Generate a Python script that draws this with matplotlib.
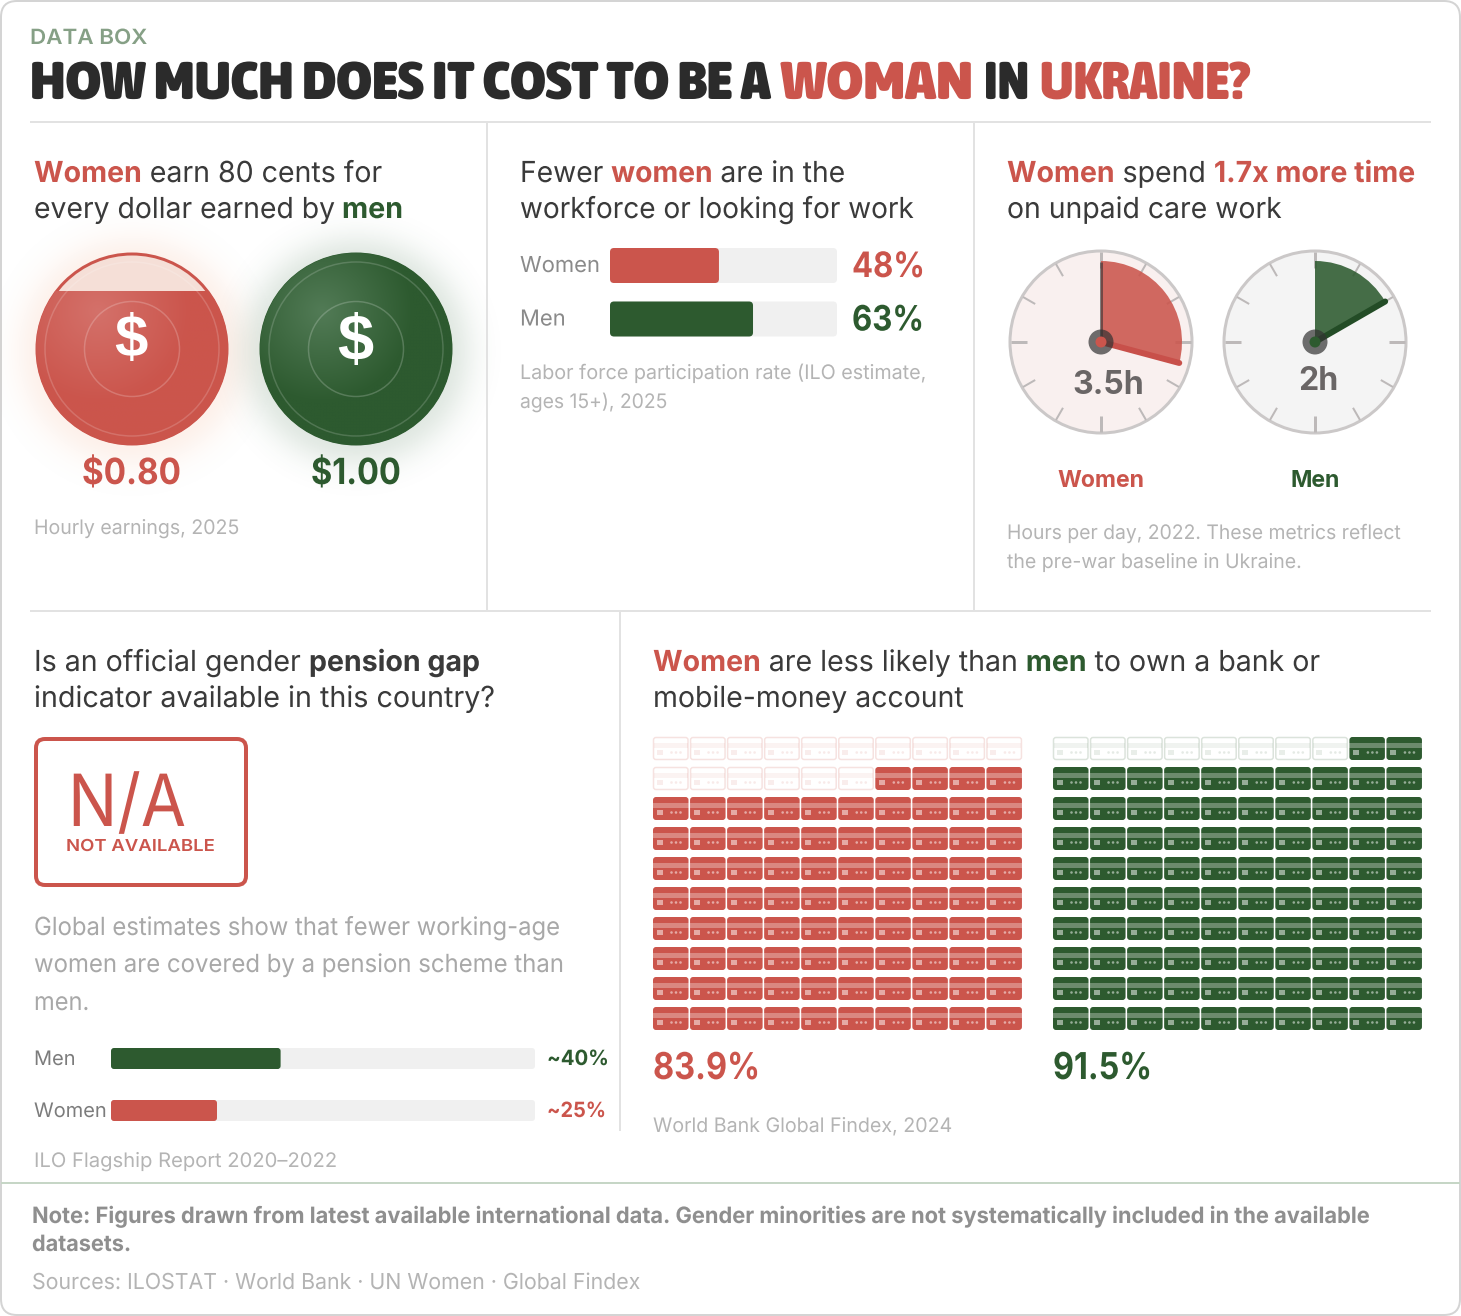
import numpy as np
import matplotlib
matplotlib.use("Agg")
import matplotlib.pyplot as plt
from matplotlib.patches import Circle, FancyBboxPatch, Wedge, Rectangle
from matplotlib.patheffects import AbstractPathEffect
from matplotlib.text import Text
from matplotlib.transforms import Affine2D, Bbox

RED = "#cb554c"; GREEN = "#2d5a2f"; DARK = "#3a3a3a"; MUTED = "#b4b4b4"
BODY = ["Inter", "Liberation Sans", "DejaVu Sans"]
TITLE = ["Asap Condensed", "Lato", "DejaVu Sans"]

earnings_labels = ["$0.80", "$1.00"]
earnings_values = [0.80, 1.00]
lfp_labels = ["Women", "Men"]
lfp_values = [48, 63]
care_labels = ["Women", "Men"]
care_hours = [3.5, 2.0]
pension_labels = ["Men", "Women"]
pension_values = [40, 25]
account_values = [83.9, 91.5]

fig = plt.figure(figsize=(14.61, 13.16), dpi=100, facecolor="white")
ax = fig.add_axes([0, 0, 1, 1])
ax.set_xlim(0, 1461); ax.set_ylim(1316, 0); ax.axis("off"); ax.set_aspect("auto")
rend = fig.canvas.get_renderer()


def px(s):
    return s * 0.72


class ScaleX(AbstractPathEffect):
    def __init__(self, x0, sx):
        super().__init__()
        self.x0, self.sx = x0, sx

    def draw_path(self, renderer, gc, tpath, affine, rgbFace=None):
        tr = affine + Affine2D().translate(-self.x0, 0).scale(self.sx, 1).translate(self.x0, 0)
        renderer.draw_path(gc, tpath, tr, rgbFace)


class FitText(Text):
    """A real text whose glyphs are scaled horizontally from its left edge."""
    def __init__(self, x, y, s, sx=1.0, **kw):
        super().__init__(x, y, s, **kw)
        self._x0 = x
        self._sx = sx
        self.set_path_effects([ScaleX(x, sx)])

    def get_window_extent(self, renderer=None, dpi=None):
        b = super().get_window_extent(renderer, dpi)
        return Bbox.from_extents(self._x0 + (b.x0 - self._x0) * self._sx, b.y0,
                                 self._x0 + (b.x1 - self._x0) * self._sx, b.y1)


def measure(s, size, weight, family):
    t = ax.text(0, 0, s + "|", fontsize=px(size), fontweight=weight, family=family)
    w1 = t.get_window_extent(rend).width
    t.set_text("|")
    w2 = t.get_window_extent(rend).width
    t.remove()
    return w1 - w2


def runs(x, y, parts, size, end=None, family=BODY, z=8):
    total = sum(measure(s, size, w, family) for s, c, w in parts)
    sx = 1.0 if end is None else (end - x) / total
    for s, c, w in parts:
        t = FitText(x, y, s, sx=sx, color=c, fontsize=px(size), fontweight=w, family=family,
                    va="baseline", ha="left", zorder=z)
        ax.add_artist(t)
        x += measure(s, size, w, family) * sx


def txt(x, y, s, c, size, end=None, weight="normal", family=BODY):
    runs(x, y, [(s, c, weight)], size, end, family)


def line(x0, y0, x1, y1, c, lw=2, **k):
    ax.plot([x0, x1], [y0, y1], color=c, lw=px(lw), solid_capstyle=k.pop("cap", "butt"), **k)


def rbox(x, y, w, h, r, fc, ec="none", lw=0, alpha=None, z=2):
    p = FancyBboxPatch((x + r, y + r), w - 2 * r, h - 2 * r, boxstyle=f"round,pad={r},rounding_size={r}",
                       fc=fc, ec=ec, lw=px(lw), alpha=alpha, zorder=z)
    ax.add_patch(p)
    return p


# frame
rbox(1, 1, 1459, 1314, 16, "white", "#d4d4d4", 2, z=0)

# header
txt(30, 44, "DATA BOX", "#86a086", 21, end=147, weight="semibold")
txt(30, 99, "HOW MUCH DOES IT COST TO BE A", "#2b2b2b", 53, end=771, weight=900, family=TITLE)
txt(781, 99, "WOMAN", RED, 53, end=973, weight=900, family=TITLE)
txt(984, 99, "IN", "#2b2b2b", 53, end=1029, weight=900, family=TITLE)
txt(1040, 99, "UKRAINE?", RED, 53, end=1250, weight=900, family=TITLE)

# rules
line(30, 122, 1431, 122, "#e2e2e2")
line(30, 610.5, 1431, 610.5, "#e2e2e2")
line(487, 122, 487, 610, "#e2e2e2")
line(974, 122, 974, 610, "#e2e2e2")
line(620, 610, 620, 1131, "#e2e2e2")
line(1, 1182.5, 1460, 1182.5, "#c6d6c6")

HS = 29
# panel 1
runs(34, 182, [("Women", RED, "bold"), (" earn 80 cents for", DARK, "normal")], HS, end=382)
txt(34, 218, "every dollar earned by", DARK, HS, end=335)
txt(342, 218, "men", GREEN, HS, end=403, weight="bold")


def coin(cx, cy, r, frac, base, high, glow, light, dollar_size, dollar_y):
    g = 50
    yy, xx = np.mgrid[cy - r - g:cy + r + g + 8, cx - r - g:cx + r + g]
    d = np.hypot(xx - cx, yy - cy - 2)
    a = 0.16 * np.exp(-np.clip(d - r + 6, 0, None) ** 2 / (2 * 20.0 ** 2))
    im = np.zeros(a.shape + (4,))
    im[..., :3] = matplotlib.colors.to_rgb(glow)
    im[..., 3] = a
    ax.imshow(im, extent=(cx - r - g, cx + r + g, cy + r + g + 8, cy - r - g), zorder=1,
              interpolation="bilinear", aspect="auto")
    ax.add_patch(Circle((cx, cy), r - 1, fc=light, ec=base, lw=px(3), zorder=2))
    top = cy - r + 2 * r * (1 - frac)
    ys = np.arange(top, cy + r + 1)
    xs = np.arange(cx - r, cx + r + 1)
    X, Y = np.meshgrid(xs, ys)
    t = np.clip(np.hypot(X - (cx - 34), Y - (cy - 38)) / (r * 0.95), 0, 1)[..., None]
    rgb = np.array(matplotlib.colors.to_rgb(high)) * (1 - t) + np.array(matplotlib.colors.to_rgb(base)) * t
    img = ax.imshow(rgb, extent=(cx - r, cx + r, cy + r, top), zorder=3, interpolation="bilinear", aspect="auto")
    img.set_clip_path(Circle((cx, cy), r, transform=ax.transData))
    ax.add_patch(Circle((cx, cy), r - 9, fc="none", ec=(1, 1, 1, 0.17), lw=px(1.5), zorder=4))
    ax.add_patch(Circle((cx, cy), 47.5, fc="none", ec=(1, 1, 1, 0.2), lw=px(1.5), zorder=4))
    ax.text(cx - 1, dollar_y, "$", color="white", fontsize=px(dollar_size), fontweight="bold",
            family="Liberation Sans", ha="center", va="baseline", zorder=5)


coin(132, 349, 96, earnings_values[0] / earnings_values[1], RED, "#d4716a", "#f2a57e", "#f5dfd7", 60, 357)
coin(356, 349, 96, earnings_values[1] / earnings_values[1], GREEN, "#527b56", "#3f6f48", "#f5dfd7", 65, 360)
txt(82, 484, earnings_labels[0], RED, 36, end=181, weight="bold")
txt(311, 484, earnings_labels[1], GREEN, 36, end=401, weight="bold")
txt(34, 534, "Hourly earnings, 2025", MUTED, 20, end=239)

# panel 2
runs(520, 182, [("Fewer ", DARK, "normal"), ("women", RED, "bold"), (" are in the", DARK, "normal")], HS, end=845)
txt(520, 218, "workforce or looking for work", DARK, HS, end=914)
for i, (lab, v, c, e) in enumerate(zip(lfp_labels, lfp_values, [RED, GREEN], [925, 924])):
    y = 248 + i * 53.5
    txt(520, y + 24, lab, "#8a8a8a", 22)
    rbox(610, y, 227, 35, 4, "#f0f0f0")
    rbox(610, y, 227 * v / 100, 35, 4, c, z=3)
    txt(852, y + 29, f"{v}%", c, 35, end=e, weight="bold")
txt(520, 379, "Labor force participation rate (ILO estimate,", MUTED, 20, end=926)
txt(520, 408, "ages 15+), 2025", MUTED, 20, end=667)

# panel 3
runs(1007, 182, [("Women", RED, "bold"), (" spend ", DARK, "normal"), ("1.7x more time", RED, "bold")], HS, end=1415)
txt(1007, 218, "on unpaid care work", DARK, HS, end=1282)


def clock(cx, cy, hours, color, face, lab, lab_xy, hand_dark, hand_w, show_min):
    ax.add_patch(Circle((cx, cy), 91, fc=face, ec="#cbc8c8", lw=px(3), zorder=2))
    for k in range(12):
        th = np.radians(k * 30)
        s, c = np.sin(th), np.cos(th)
        r0 = 74 if k % 3 == 0 else 76
        line(cx + r0 * s, cy - r0 * c, cx + 90 * s, cy - 90 * c, "#bdb9b9", 3 if k % 3 == 0 else 2, zorder=3)
    ang = hours * 30
    ax.add_patch(Wedge((cx, cy), 81, -90, -90 + ang, fc=color, ec="none", alpha=0.88, zorder=4))
    th = np.radians(ang)
    line(cx, cy, cx + 81 * np.sin(th), cy - 81 * np.cos(th), hand_dark, hand_w, zorder=5, cap="round")
    if show_min:
        line(cx, cy, cx, cy - 80, "#333333", 3, alpha=0.6, zorder=5)
    ax.add_patch(Circle((cx, cy), 12.5, fc="#333333", ec="none", alpha=0.7, zorder=6))
    ax.add_patch(Circle((cx, cy), 5.5, fc=color, ec="none", zorder=7))
    ax.text(lab_xy[0], lab_xy[1], lab, color="#6a6666", fontsize=px(32), fontweight="bold", family=BODY,
            ha="center", va="baseline", zorder=8)


clock(1101, 342, care_hours[0], RED, "#f9f0ef", f"{care_hours[0]:g}h", (1108, 394), "#c8504a", 6, True)
clock(1315, 342, care_hours[1], GREEN, "#f4f4f4", f"{care_hours[1]:g}h", (1318, 390), "#234c26", 6, False)
ax.text(1101, 487, care_labels[0], color=RED, fontsize=px(23), fontweight="bold", family=BODY, ha="center", va="baseline")
ax.text(1315, 487, care_labels[1], color=GREEN, fontsize=px(23), fontweight="bold", family=BODY, ha="center", va="baseline")
txt(1007, 539, "Hours per day, 2022. These metrics reflect", MUTED, 20, end=1400)
txt(1007, 568, "the pre-war baseline in Ukraine.", MUTED, 20, end=1301)

# panel 4
runs(34, 671, [("Is an official gender ", DARK, "normal"), ("pension gap", DARK, "bold")], HS, end=480)
txt(34, 707, "indicator available in this country?", DARK, HS, end=495)
rbox(36, 739, 210, 146, 9, "white", RED, 4)
txt(68, 826, "N/A", RED, 72, end=186)
txt(66, 851, "NOT AVAILABLE", RED, 16.5, end=215, weight="semibold")
for y, s, e in zip([935, 972, 1010], ["Global estimates show that fewer working-age",
                                      "women are covered by a pension scheme than", "men."], [559, 562, 89]):
    txt(34, y, s, "#a8a8a8", 25, end=e)
for i, (lab, v, c, e) in enumerate(zip(pension_labels, pension_values, [GREEN, RED], [609, 606])):
    y = 1048 + i * 52
    txt(34, y + 17, lab, "#7c7c7c", 20)
    rbox(111, y, 424, 21, 3, "#f0f0f0")
    rbox(111, y, 424 * v / 100, 21, 3, c, z=3)
    txt(547, y + 17, f"~{v}%", c, 21, end=e, weight="bold")
txt(34, 1167, "ILO Flagship Report 2020\u20132022", MUTED, 20, end=337)

# panel 5
runs(653, 671, [("Women", RED, "bold"), (" are less likely than ", DARK, "normal"), ("men", GREEN, "bold"),
                (" to own a bank or", DARK, "normal")], HS, end=1320)
txt(653, 707, "mobile-money account", DARK, HS, end=964)


def card(x, y, color, filled):
    W, H = 35.5, 23
    if filled:
        rbox(x, y, W, H, 3, color, z=2)
        ax.add_patch(Rectangle((x, y + 5.5), W, 5, fc="white", alpha=0.3, ec="none", zorder=3))
        ax.add_patch(Rectangle((x + 4, y + 13), 6, 5, fc="white", alpha=0.5, ec="none", zorder=3))
        dot_a = 0.5
    else:
        rbox(x + 0.5, y + 0.5, W - 1, H - 1, 2.5, "white", matplotlib.colors.to_rgba(color, 0.17), 1.5, z=2)
        ax.add_patch(Rectangle((x + 1, y + 5.5), W - 2, 5, fc=color, alpha=0.07, ec="none", zorder=3))
        ax.add_patch(Rectangle((x + 4, y + 13), 6, 5, fc=color, alpha=0.1, ec="none", zorder=3))
        dot_a = 0.12
    for dx in (18.5, 23, 27.5):
        ax.add_patch(Circle((x + dx, y + 15.5), 1.3, fc="white" if filled else color, alpha=dot_a, ec="none", zorder=3))


for v, x0, c, e in zip(account_values, [653, 1053], [RED, GREEN], [760, 1152]):
    empty = 100 - int(round(v))
    for n in range(100):
        r, k = divmod(n, 10)
        card(x0 + k * 37.05, 737 + r * 30, c, n >= empty)
    txt(x0, 1079, f"{v}%", c, 37, end=e, weight="bold")
txt(653, 1132, "World Bank Global Findex, 2024", MUTED, 20, end=952)

# footer
NOTE = "#8f8f8f"
txt(32, 1223, "Note: Figures drawn from latest available international data. Gender minorities are not systematically included in the available",
    NOTE, 22.5, end=1370, weight="bold")
txt(32, 1251, "datasets.", NOTE, 22.5, end=131, weight="bold")
txt(32, 1289, "Sources: ILOSTAT \u00b7 World Bank \u00b7 UN Women \u00b7 Global Findex", MUTED, 22, end=640)

ax.set_xlim(0, 1461); ax.set_ylim(1316, 0)
fig.savefig("out.png", dpi=100, facecolor="white")
